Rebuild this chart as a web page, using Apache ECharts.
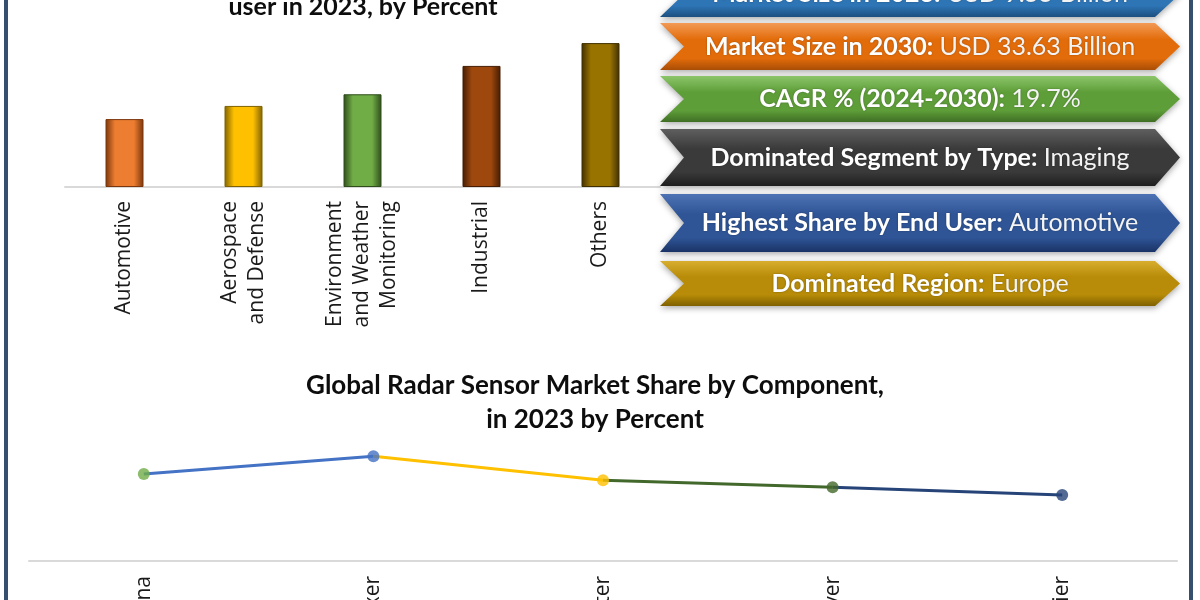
<!DOCTYPE html>
<html>
<head>
<meta charset="utf-8">
<script src="https://cdn.jsdelivr.net/npm/echarts@6/dist/echarts.min.js"></script>
<style>
html,body{margin:0;padding:0;background:#fff;}
#chart{width:1200px;height:600px;}
</style>
</head>
<body>
<div id="chart"></div>
<script>
// ---- data ----
const endUserCategories = ['Automotive', 'Aerospace\nand Defense', 'Environment\nand Weather\nMonitoring', 'Industrial', 'Others'];
const endUserShare = [13.4, 16.0, 18.3, 23.9, 28.4];
const componentCategories = ['Antenna', 'Duplexer', 'Transmitter', 'Receiver', 'Amplifier'];
const componentShare = [21.1, 25.4, 19.6, 17.9, 16.0];
const bannerLabels = ['Market Size in 2023:', 'Market Size in 2030:', 'CAGR % (2024-2030):', 'Dominated Segment by Type:', 'Highest Share by End User:', 'Dominated Region:'];
const bannerValues = ['USD 9.55 Billion', 'USD 33.63 Billion', '19.7%', 'Imaging', 'Automotive', 'Europe'];
const topTitle = 'Global Radar Sensor Market Share by End\nuser in 2023, by Percent';
const bottomTitle = 'Global Radar Sensor Market Share by Component,\nin 2023 by Percent';

// ---- styles ----
const barColors = [
  ['#7a360c', '#ED7D31'],
  ['#806200', '#FFC000'],
  ['#2f4d1b', '#70AD47'],
  ['#451d03', '#9E480E'],
  ['#403000', '#997300']
];
const pointColors = ['#70AD47', '#4472C4', '#FFC000', '#43682B', '#264478'];
const bannerStyles = [
  {top: -29, h: 46, c: ['#6fa8dc', '#2E75B6', '#1d4f80']},
  {top: 23, h: 47, c: ['#f29a55', '#E36C0A', '#a94d06']},
  {top: 76, h: 46, c: ['#8cc56a', '#5E9E38', '#3f6e24']},
  {top: 129, h: 57, c: ['#5f5f5f', '#3a3a3a', '#1e1e1e']},
  {top: 194, h: 58, c: ['#4d73b5', '#2F5597', '#1a3366']},
  {top: 261, h: 45, c: ['#d8ae30', '#B88C08', '#7f6100']}
];

const chart = echarts.init(document.getElementById('chart'), null, {renderer: 'canvas'});

function barGradient(i) {
  const d = barColors[i][0], c = barColors[i][1];
  return new echarts.graphic.LinearGradient(0, 0, 1, 0, [
    {offset: 0, color: d}, {offset: 0.25, color: c}, {offset: 0.75, color: c}, {offset: 1, color: d}
  ]);
}

// line segments coloured by their end point
const segmentSeries = [];
for (let i = 0; i < componentShare.length - 1; i++) {
  const data = componentShare.map((v, k) => (k === i || k === i + 1) ? v : '-');
  segmentSeries.push({
    type: 'line', xAxisIndex: 1, yAxisIndex: 1, data: data,
    showSymbol: false, symbol: 'none', silent: true,
    lineStyle: {color: pointColors[i + 1], width: 3},
    z: 2
  });
}

const graphics = [];
// frame borders
graphics.push({type: 'rect', shape: {x: 4, y: 0, width: 4, height: 600}, style: {fill: '#34506e'}, z: 100});
graphics.push({type: 'rect', shape: {x: 1189, y: 0, width: 4, height: 600}, style: {fill: '#34506e'}, z: 100});
// banners
const bx0 = 660, bx1 = 1155, bxTip = 1180, notch = 24;
bannerStyles.forEach((b, i) => {
  const t = b.top, h = b.h;
  graphics.push({
    type: 'polygon',
    shape: {points: [[bx0, t], [bx1, t], [bxTip, t + h / 2], [bx1, t + h], [bx0, t + h], [bx0 + notch, t + h / 2]]},
    style: {
      fill: new echarts.graphic.LinearGradient(0, 0, 0, 1, [
        {offset: 0, color: b.c[0]}, {offset: 0.35, color: b.c[1]}, {offset: 0.75, color: b.c[1]}, {offset: 1, color: b.c[2]}
      ]),
      shadowBlur: 6, shadowColor: 'rgba(0,0,0,0.35)', shadowOffsetY: 2
    },
    z: 10
  });
  graphics.push({
    type: 'text',
    x: 920, y: t + h / 2,
    style: {
      text: '{b|' + bannerLabels[i] + '}{n| ' + bannerValues[i] + '}',
      align: 'center', verticalAlign: 'middle',
      rich: {
        b: {fontFamily: 'Lato', fontWeight: 'bold', fontSize: 25, fill: '#ffffff', textShadowColor: 'rgba(0,0,0,0.35)', textShadowBlur: 2},
        n: {fontFamily: 'Lato', fontWeight: 'normal', fontSize: 25, fill: '#f4f4f4', textShadowColor: 'rgba(0,0,0,0.3)', textShadowBlur: 2}
      }
    },
    z: 11
  });
});

const option = {
  backgroundColor: '#ffffff',
  animation: false,
  title: [
    {
      text: topTitle, left: 358, top: -43, textAlign: 'center',
      textStyle: {fontFamily: 'Lato', fontWeight: 'bold', fontSize: 25, color: '#0d0d0d', lineHeight: 30}
    },
    {
      text: bottomTitle, left: 590, top: 364, textAlign: 'center',
      textStyle: {fontFamily: 'Lato', fontWeight: 'bold', fontSize: 26, color: '#0d0d0d', lineHeight: 34}
    }
  ],
  grid: [
    {left: 65, right: 540, top: 35, bottom: 413, containLabel: false, outerBoundsMode: 'none'},
    {left: 29, right: 23, top: 396, bottom: 39, containLabel: false, outerBoundsMode: 'none'}
  ],
  xAxis: [
    {
      type: 'category', gridIndex: 0, data: endUserCategories,
      axisLine: {lineStyle: {color: '#d9d9d9', width: 2}},
      axisTick: {show: false},
      axisLabel: {rotate: 90, margin: 14, fontFamily: 'Open Sans', fontSize: 21, lineHeight: 27, color: '#1a1a1a', interval: 0}
    },
    {
      type: 'category', gridIndex: 1, data: componentCategories,
      axisLine: {lineStyle: {color: '#d9d9d9', width: 2}},
      axisTick: {show: false},
      axisLabel: {rotate: 90, margin: 15, fontFamily: 'Open Sans', fontSize: 21, color: '#1a1a1a', interval: 0}
    }
  ],
  yAxis: [
    {type: 'value', gridIndex: 0, min: 0, max: 30, show: false, splitLine: {show: false}},
    {type: 'value', gridIndex: 1, min: 0, max: 40, show: false, splitLine: {show: false}}
  ],
  series: [
    {
      type: 'bar', xAxisIndex: 0, yAxisIndex: 0, barWidth: 38,
      data: endUserShare.map((v, i) => ({value: v, itemStyle: {color: barGradient(i), borderColor: barColors[i][0], borderWidth: 1}})),
      silent: true
    },
    ...segmentSeries,
    {
      type: 'scatter', xAxisIndex: 1, yAxisIndex: 1, symbolSize: 12, silent: true, z: 5,
      data: componentShare.map((v, i) => ({value: v, itemStyle: {color: pointColors[i]}}))
    }
  ],
  graphic: graphics
};
chart.setOption(option);
</script>
</body>
</html>
